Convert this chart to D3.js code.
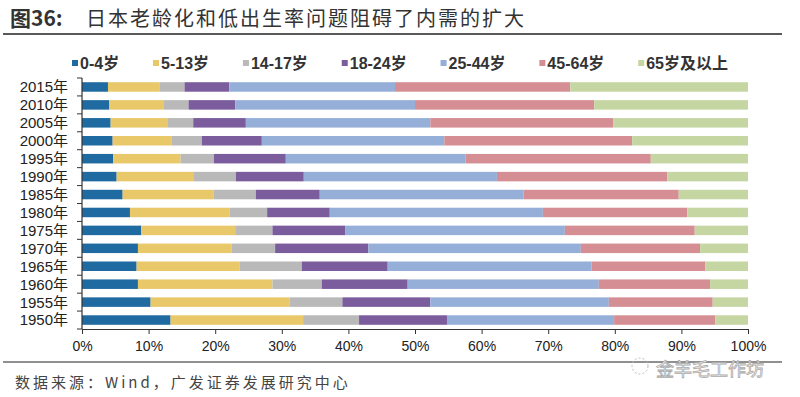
<!DOCTYPE html>
<html>
<head>
<meta charset="utf-8">
<script src="https://cdn.jsdelivr.net/npm/d3@7"></script>
<style>
  body { margin: 0; background: #fff; }
  svg { display: block; }
  text { font-family: "Liberation Sans", "Noto Sans CJK SC", sans-serif; fill: #222; }
</style>
</head>
<body>
<svg id="chart" width="800" height="397"></svg>
<script>
// years, top to bottom
const years = ['2015年', '2010年', '2005年', '2000年', '1995年', '1990年', '1985年',
  '1980年', '1975年', '1970年', '1965年', '1960年', '1955年', '1950年']
const groups = ['0-4岁', '5-13岁', '14-17岁', '18-24岁', '25-44岁', '45-64岁', '65岁及以上']
// share of population (%) per age group, same order as years
const age0_4   = [3.9, 4.1, 4.3, 4.6, 4.7, 5.2, 6.1, 7.2, 8.9, 8.4, 8.2, 8.4, 10.3, 13.3]
const age5_13  = [7.8, 8.2, 8.5, 8.9, 10.1, 11.5, 13.7, 15.0, 14.1, 14.1, 15.5, 20.2, 20.9, 19.9]
const age14_17 = [3.7, 3.7, 3.9, 4.5, 5.0, 6.4, 6.3, 5.6, 5.6, 6.5, 9.3, 7.4, 7.9, 8.4]
const age18_24 = [6.7, 7.0, 7.9, 9.0, 10.8, 10.2, 9.6, 9.4, 10.9, 14.0, 12.9, 12.9, 13.2, 13.2]
const age25_44 = [24.9, 27.0, 27.7, 27.4, 27.0, 29.0, 30.6, 32.0, 33.0, 31.9, 30.6, 28.7, 26.8, 25.1]
const age45_64 = [26.3, 26.9, 27.5, 28.2, 27.8, 25.6, 23.3, 21.7, 19.5, 17.9, 17.1, 16.7, 15.6, 15.2]
const age65up  = [26.7, 23.1, 20.2, 17.4, 14.6, 12.1, 10.4, 9.1, 8.0, 7.2, 6.4, 5.7, 5.3, 4.9]
const xTicks = [0, 10, 20, 30, 40, 50, 60, 70, 80, 90, 100]

const colors = ['#1f6aa0', '#e9c86a', '#b9b9b9', '#7b5c9c', '#95afd8', '#d58e93', '#c6d6a2']

const series = [age0_4, age5_13, age14_17, age18_24, age25_44, age45_64, age65up]
const rows = years.map((y, i) => {
  const r = { year: y }
  groups.forEach((g, k) => { r[g] = series[k][i] })
  return r
})

const svg = d3.select('#chart')
const m = { left: 82, right: 748, top: 78, bottom: 329 }

const x = d3.scaleLinear().domain([0, 100]).range([m.left, m.right])
const y = d3.scaleBand().domain(years).range([m.top, m.bottom]).paddingInner(0.47).paddingOuter(0.235)

// title
svg.append('text')
  .attr('x', 10).attr('y', 26)
  .style('font-family', '"Noto Sans CJK SC", sans-serif')
  .style('font-size', '21px').style('font-weight', 'bold').style('fill', '#333')
  .text('图36:')
svg.append('text')
  .attr('x', 86).attr('y', 26)
  .style('font-family', '"Noto Sans CJK SC", sans-serif')
  .style('font-size', '20px').style('letter-spacing', '2px').style('fill', '#333')
  .text('日本老龄化和低出生率问题阻碍了内需的扩大')
svg.append('line')
  .attr('x1', 3).attr('x2', 782).attr('y1', 34).attr('y2', 34)
  .attr('stroke', '#222').attr('stroke-width', 1.5)

// legend, spread between x=72 and x=728
const legend = svg.append('g')
const items = groups.map((g, k) => {
  const it = legend.append('g')
  it.append('rect').attr('x', 0).attr('y', -3).attr('width', 6).attr('height', 6).attr('fill', colors[k])
  const t = it.append('text').attr('x', 8).attr('y', 0).attr('dy', '0.35em')
    .style('font-size', '16px').style('font-weight', 'bold').style('fill', '#333')
    .text(g)
  return { it, w: 8 + t.node().getComputedTextLength() }
})
const gap = (728 - 72 - d3.sum(items, d => d.w)) / (items.length - 1)
let lx = 72
items.forEach(d => {
  d.it.attr('transform', `translate(${lx},63)`)
  lx += d.w + gap
})

// bars
const stack = d3.stack().keys(groups)
const layers = stack(rows)
svg.append('g').selectAll('g')
  .data(layers)
  .join('g')
  .attr('fill', (d, i) => colors[i])
  .selectAll('rect')
  .data(d => d)
  .join('rect')
  .attr('x', d => x(d[0]))
  .attr('width', d => x(d[1]) - x(d[0]))
  .attr('y', d => y(d.data.year))
  .attr('height', y.bandwidth())

// y axis
const yAxis = svg.append('g')
yAxis.append('line').attr('x1', m.left).attr('x2', m.left).attr('y1', m.top).attr('y2', m.bottom)
  .attr('stroke', '#333').attr('stroke-width', 1.2)
const step = y.step()
yAxis.selectAll('.yt')
  .data(d3.range(years.length + 1))
  .join('line')
  .attr('class', 'yt')
  .attr('x1', m.left - 5).attr('x2', m.left)
  .attr('y1', i => m.top + i * step).attr('y2', i => m.top + i * step)
  .attr('stroke', '#333')
yAxis.selectAll('text')
  .data(years)
  .join('text')
  .attr('x', m.left - 14)
  .attr('y', d => y(d) + y.bandwidth() / 2)
  .attr('dy', '0.36em')
  .attr('text-anchor', 'end')
  .style('font-size', '15px')
  .text(d => d)

// x axis
const xAxis = svg.append('g').attr('transform', `translate(0,${m.bottom})`)
  .call(d3.axisBottom(x).tickValues(xTicks).tickFormat(d => d + '%').tickSize(5).tickSizeOuter(0).tickPadding(7))
xAxis.select('.domain').attr('stroke', '#333').attr('stroke-width', 1.2)
xAxis.selectAll('.tick line').attr('stroke', '#333')
xAxis.selectAll('.tick text')
  .style('font-family', '"Liberation Sans Narrow", "Liberation Sans", sans-serif')
  .style('font-size', '14px').style('fill', '#222')

// footer
svg.append('line')
  .attr('x1', 3).attr('x2', 782).attr('y1', 362).attr('y2', 362)
  .attr('stroke', '#222').attr('stroke-width', 1.2)
svg.append('text')
  .attr('x', 15).attr('y', 388)
  .style('font-family', '"Noto Sans CJK SC", sans-serif')
  .style('font-size', '15px').style('letter-spacing', '3px').style('fill', '#444')
  .text('数据来源：Wind，广发证券发展研究中心')

// watermark
svg.append('circle').attr('cx', 640).attr('cy', 366).attr('r', 8)
  .attr('fill', 'none').attr('stroke', '#bbb').attr('stroke-dasharray', '2,2')
svg.append('text')
  .attr('x', 656).attr('y', 376)
  .style('font-family', '"Noto Sans CJK SC", sans-serif')
  .style('font-size', '18px').style('fill', '#fff')
  .style('stroke', '#aaa').style('stroke-width', 0.8)
  .text('金羊毛工作坊')
</script>
</body>
</html>
